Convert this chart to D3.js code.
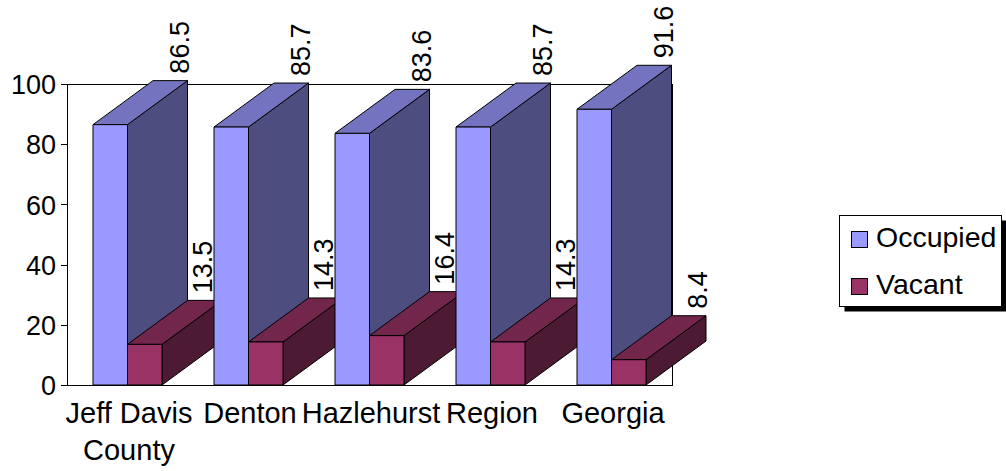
<!DOCTYPE html>
<html>
<head>
<meta charset="utf-8">
<script src="https://cdn.jsdelivr.net/npm/d3@7"></script>
<style>
  html, body { margin: 0; padding: 0; background: #fff; }
  svg { display: block; font-family: "Liberation Sans", Arial, sans-serif; }
</style>
</head>
<body>
<svg id="chart" width="1006" height="471"></svg>
<script>
// Housing occupancy (%) by area
const categories = ["Jeff Davis County", "Denton", "Hazlehurst", "Region", "Georgia"];
const occupied = [86.5, 85.7, 83.6, 85.7, 91.6];
const vacant = [13.5, 14.3, 16.4, 14.3, 8.4];
const seriesNames = ["Occupied", "Vacant"];
const yTicks = [0, 20, 40, 60, 80, 100];

// front / top / side shades for each series
const faceColors = {
  Occupied: { front: "#9999ff", top: "#7373bf", side: "#4d4d80" },
  Vacant:   { front: "#993366", top: "#73264c", side: "#4d1a33" }
};

const W = 1006, H = 471;
const plot = { left: 67, right: 672, top: 84, bottom: 385 };
const depth = { dx: 60, dy: -44 };
const tickFont = 27, valueFont = 27, catFont = 29, legendFont = 28.5;

const svg = d3.select("#chart");
svg.append("rect").attr("width", W).attr("height", H).attr("fill", "#fff");

const y = d3.scaleLinear().domain([0, 100]).range([plot.bottom, plot.top]);
const x = d3.scaleBand().domain(categories).range([plot.left, plot.right]).paddingInner(0).paddingOuter(0);
const inner = d3.scaleBand().domain(seriesNames).range([26, x.bandwidth() - 26]).padding(0);

// plot frame (top and right edges)
svg.append("path")
  .attr("d", `M${plot.left},${plot.top}H${plot.right}V${plot.bottom}`)
  .attr("fill", "none").attr("stroke", "#000").attr("stroke-width", 1)
  .attr("shape-rendering", "crispEdges");

// value axis
const yAxis = svg.append("g")
  .attr("transform", `translate(${plot.left},0)`)
  .call(d3.axisLeft(y).tickValues(yTicks).tickSize(6).tickPadding(5).tickFormat(d3.format("d")));
yAxis.select(".domain").attr("stroke", "#000").attr("shape-rendering", "crispEdges");
yAxis.selectAll(".tick line").attr("stroke", "#000").attr("shape-rendering", "crispEdges");
yAxis.selectAll(".tick text")
  .attr("font-size", tickFont).attr("font-family", "Liberation Sans, Arial, sans-serif")
  .attr("fill", "#000").attr("dy", "0.36em");

// category axis line
const xAxis = svg.append("g")
  .attr("transform", `translate(0,${plot.bottom})`)
  .call(d3.axisBottom(x).tickSize(0).tickFormat(""));
xAxis.select(".domain").attr("stroke", "#000").attr("shape-rendering", "crispEdges");

// bars: drawn category by category, left to right, so nearer faces overlap correctly
const rows = categories.map((c, i) => ({ cat: c, values: [occupied[i], vacant[i]] }));
const barsG = svg.append("g");
const labelsG = svg.append("g");

function box(x0, w, v) {
  const yt = y(v), yb = y(0);
  const { dx, dy } = depth;
  return {
    front: [[x0, yt], [x0 + w, yt], [x0 + w, yb], [x0, yb]],
    top: [[x0, yt], [x0 + dx, yt + dy], [x0 + w + dx, yt + dy], [x0 + w, yt]],
    side: [[x0 + w, yt], [x0 + w + dx, yt + dy], [x0 + w + dx, yb + dy], [x0 + w, yb]]
  };
}
const line = d3.line();

rows.forEach((row, i) => {
  seriesNames.forEach((s, j) => {
    const v = row.values[j];
    const x0 = x(row.cat) + inner(s);
    const w = inner.bandwidth();
    const b = box(x0, w, v);
    const g = barsG.append("g").attr("class", "bar " + s);
    ["side", "top", "front"].forEach(face => {
      g.append("path")
        .attr("d", line(b[face]) + "Z")
        .attr("fill", faceColors[s][face])
        .attr("stroke", "#000").attr("stroke-width", 1)
        .attr("stroke-linejoin", "round");
    });

    // value label above the back edge, kept clear of the next bar
    let lx = x0 + w + depth.dx + 1;
    if (j === seriesNames.length - 1 && i < rows.length - 1) {
      const nextFront = x(rows[i + 1].cat) + inner(seriesNames[0]);
      lx = Math.min(lx, nextFront - 2);
    }
    const ly = y(v) + depth.dy - 7;
    labelsG.append("text")
      .attr("transform", `translate(${lx},${ly}) rotate(-90)`)
      .attr("font-size", valueFont)
      .attr("fill", "#000")
      .attr("text-anchor", "start")
      .text(d3.format(".1f")(v));
  });
});

// category labels, wrapped when a name runs well past its band
const catG = svg.append("g");
const wrapWidth = x.bandwidth() * 1.1;
rows.forEach(row => {
  const cx = x(row.cat) + x.bandwidth() / 2 + 1.5;
  const t = catG.append("text")
    .attr("x", cx)
    .attr("y", 423)
    .attr("font-size", catFont)
    .attr("text-anchor", "middle")
    .attr("fill", "#000");
  const words = row.cat.split(" ");
  let lines = [], cur = [];
  const probe = t.append("tspan");
  words.forEach(wd => {
    const trial = cur.concat(wd).join(" ");
    probe.text(trial);
    if (cur.length && probe.node().getComputedTextLength() > wrapWidth) {
      lines.push(cur.join(" "));
      cur = [wd];
    } else {
      cur.push(wd);
    }
  });
  lines.push(cur.join(" "));
  probe.remove();
  lines.forEach((ln, k) => {
    t.append("tspan")
      .attr("x", cx)
      .attr("dy", k === 0 ? 0 : 37)
      .text(ln);
  });
});

// legend with drop shadow
const legend = svg.append("g");
const lg = { x: 839.5, y: 215.5, w: 162, h: 91 };
legend.append("rect")
  .attr("x", lg.x + 5).attr("y", lg.y + 5).attr("width", lg.w).attr("height", lg.h)
  .attr("fill", "#000");
legend.append("rect")
  .attr("x", lg.x).attr("y", lg.y).attr("width", lg.w).attr("height", lg.h)
  .attr("fill", "#fff").attr("stroke", "#000").attr("stroke-width", 1);
seriesNames.forEach((s, k) => {
  const cy = 240 + k * 47;
  legend.append("rect")
    .attr("x", 851.5).attr("y", cy - 8.5).attr("width", 16).attr("height", 16)
    .attr("fill", faceColors[s].front).attr("stroke", "#000").attr("stroke-width", 1);
  legend.append("text")
    .attr("x", 876).attr("y", cy + 7)
    .attr("font-size", legendFont)
    .attr("fill", "#000")
    .text(s);
});
</script>
</body>
</html>
